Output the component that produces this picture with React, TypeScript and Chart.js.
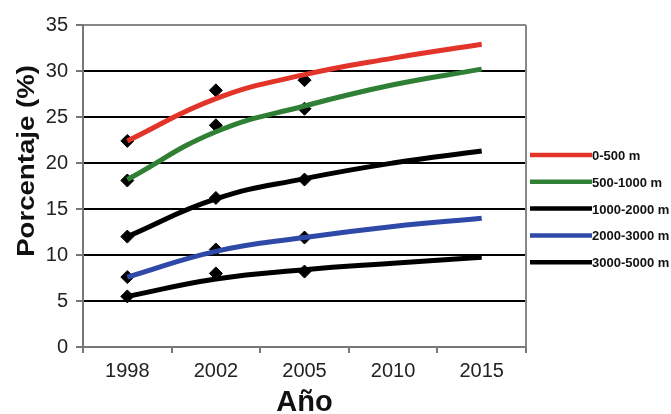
import React, { useEffect, useRef } from "react";
import { Chart, registerables } from "chart.js";

Chart.register(...registerables);

const years = ["1998", "2002", "2005", "2010", "2015"];
const seriesNames = ["0-500 m", "500-1000 m", "1000-2000 m", "2000-3000 m", "3000-5000 m"];
const seriesColors = ["#e3342a", "#2f7f35", "#000000", "#2f49a8", "#000000"];

// fitted trend curves (values read at each category)
const trend0_500 = [22.4, 27.0, 29.6, 31.4, 32.9];
const trend500_1000 = [18.2, 23.4, 26.2, 28.5, 30.2];
const trend1000_2000 = [12.0, 16.1, 18.3, 20.0, 21.3];
const trend2000_3000 = [7.6, 10.4, 11.9, 13.1, 14.0];
const trend3000_5000 = [5.5, 7.4, 8.4, 9.1, 9.75];

// observed points (diamonds)
const obs0_500 = [22.4, 27.9, 29.0, null, null];
const obs500_1000 = [18.1, 24.1, 25.9, null, null];
const obs1000_2000 = [12.0, 16.2, 18.2, null, null];
const obs2000_3000 = [7.6, 10.6, 11.9, null, null];
const obs3000_5000 = [5.5, 8.0, 8.2, null, null];

const yTicksMin = 0;
const yTicksMax = 35;
const yStep = 5;

const yTitle = "Porcentaje (%)";
const xTitle = "Año";

const FONT = "Arial, 'Liberation Sans', Helvetica, sans-serif";

export default function App() {
  const ref = useRef<HTMLCanvasElement | null>(null);

  useEffect(() => {
    if (!ref.current) return;
    const trends = [trend0_500, trend500_1000, trend1000_2000, trend2000_3000, trend3000_5000];
    const obs = [obs0_500, obs500_1000, obs1000_2000, obs2000_3000, obs3000_5000];

    const lineSets = trends.map((d, i) => ({
      type: "line" as const,
      label: seriesNames[i],
      data: d,
      borderColor: seriesColors[i],
      backgroundColor: seriesColors[i],
      borderWidth: 5,
      pointRadius: 0,
      tension: 0.45,
      fill: false,
      order: 0,
    }));
    const pointSets = obs.map((d, i) => ({
      type: "line" as const,
      label: seriesNames[i] + " obs",
      data: d,
      showLine: false,
      pointStyle: "rectRot" as const,
      pointRadius: 6.5,
      pointBorderWidth: 1,
      pointBackgroundColor: "#000",
      pointBorderColor: "#000",
      order: 1,
    }));

    const decor = {
      id: "decor",
      afterDraw(chart: any) {
        const { ctx, chartArea } = chart;
        ctx.save();
        // right border
        ctx.strokeStyle = "#888";
        ctx.lineWidth = 2;
        ctx.beginPath();
        ctx.moveTo(chartArea.right, chartArea.top);
        ctx.lineTo(chartArea.right, chartArea.bottom);
        ctx.stroke();

        // y title
        ctx.save();
        ctx.translate(27, 161);
        ctx.rotate(-Math.PI / 2);
        ctx.scale(1.15, 1);
        ctx.fillStyle = "#111";
        ctx.font = `bold 24px ${FONT}`;
        ctx.textAlign = "center";
        ctx.textBaseline = "middle";
        ctx.fillText(yTitle, 0, 0);
        ctx.restore();

        // legend
        const x0 = chartArea.right + 4;
        const x1 = chartArea.right + 66;
        ctx.font = `bold 13px ${FONT}`;
        ctx.textAlign = "left";
        ctx.textBaseline = "middle";
        seriesNames.forEach((name, i) => {
          const y = 155 + i * 26.8;
          ctx.strokeStyle = seriesColors[i];
          ctx.lineWidth = 4.5;
          ctx.beginPath();
          ctx.moveTo(x0, y);
          ctx.lineTo(x1, y);
          ctx.stroke();
          ctx.fillStyle = "#111";
          ctx.fillText(name, x1, y + 1.5);
        });
        ctx.restore();
      },
    };

    const chart = new Chart(ref.current, {
      type: "line",
      data: { labels: years, datasets: [...lineSets, ...pointSets] as any },
      options: {
        animation: false,
        responsive: true,
        maintainAspectRatio: false,
        layout: { padding: { top: 25, right: 145, left: 0, bottom: 0 } },
        plugins: { legend: { display: false }, tooltip: { enabled: false } },
        scales: {
          x: {
            type: "category",
            offset: true,
            grid: {
              offset: true,
              drawOnChartArea: false,
              drawTicks: true,
              tickLength: 6,
              color: "#777",
              lineWidth: 2,
            },
            border: { display: true, color: "#777", width: 2 },
            ticks: { font: { family: FONT, size: 20 }, color: "#222", padding: 6 },
            title: {
              display: true,
              text: xTitle,
              font: { family: FONT, size: 29, weight: "bold" },
              color: "#111",
              padding: { top: 0, bottom: -6 },
            },
            afterFit: (s: any) => {
              s.height = 67;
            },
          },
          y: {
            min: yTicksMin,
            max: yTicksMax,
            ticks: {
              stepSize: yStep,
              font: { family: FONT, size: 20 },
              color: "#222",
              padding: 8,
            },
            grid: {
              color: (c: any) =>
                c.tick && c.tick.value === yTicksMax ? "#888" : c.tick && c.tick.value === yTicksMin ? "#777" : "#000",
              tickColor: "#777",
              lineWidth: 2,
              tickLength: 7,
            },
            border: { display: true, color: "#777", width: 2 },
            afterFit: (s: any) => {
              s.width = 83;
            },
          },
        },
      },
      plugins: [decor],
    });
    return () => chart.destroy();
  }, []);

  return (
    <div style={{ position: "fixed", left: 0, top: 0, width: 671, height: 414, background: "#fff" }}>
      <canvas ref={ref} />
    </div>
  );
}
